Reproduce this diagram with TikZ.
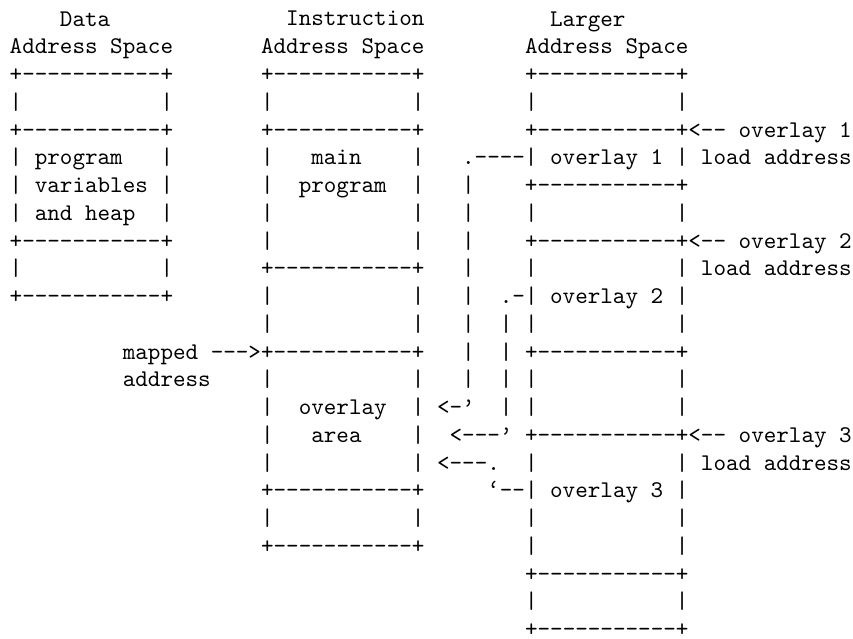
\documentclass[tikz,border=0pt]{standalone}
\usepackage{fontspec}
\setmonofont{lmmono10-regular.otf}

% n blank character cells of the current typewriter font
\newcommand\pad[1]{\hskip#1\fontcharwd\font`x\relax}

\begin{document}
\begin{tikzpicture}[x=12.57pt,y=-27.75pt,
    txtrow/.style={anchor=base west,inner sep=0pt,outer sep=0pt,
      font=\ttfamily\fontsize{23.94}{27.75}\selectfont}]

    \useasboundingbox (-0.772,-0.937) rectangle (67.088,22.09);

    % headings
    \node[txtrow] (r0) at (0,0) {\pad{4}Data\pad{14}Instruction\pad{10}Larger};
    \node[txtrow] (r1) at (0,1) {Address~Space\pad{7}Address~Space\pad{8}Address~Space};

    % the three address spaces, row by row
    \node[txtrow] (r2) at (0,2) {+-----------+\pad{7}+-----------+\pad{8}+-----------+};
    \node[txtrow] (r3) at (0,3) {|\pad{11}|\pad{7}|\pad{11}|\pad{8}|\pad{11}|};
    \node[txtrow] (r4) at (0,4) {+-----------+\pad{7}+-----------+\pad{8}+-----------+<--~overlay~1};
    \node[txtrow] (r5) at (0,5) {|~program\pad{3}|\pad{7}|\pad{3}main\pad{4}|\pad{3}.----|~overlay~1~|~load~address};
    \node[txtrow] (r6) at (0,6) {|~variables~|\pad{7}|\pad{2}program\pad{2}|\pad{3}|\pad{4}+-----------+};
    \node[txtrow] (r7) at (0,7) {|~and~heap\pad{2}|\pad{7}|\pad{11}|\pad{3}|\pad{4}|\pad{11}|};
    \node[txtrow] (r8) at (0,8) {+-----------+\pad{7}|\pad{11}|\pad{3}|\pad{4}+-----------+<--~overlay~2};
    \node[txtrow] (r9) at (0,9) {|\pad{11}|\pad{7}+-----------+\pad{3}|\pad{4}|\pad{11}|~load~address};
    \node[txtrow] (r10) at (0,10) {+-----------+\pad{7}|\pad{11}|\pad{3}|\pad{2}.-|~overlay~2~|};

    % data space ends here
    \node[txtrow] (r11) at (20,11) {|\pad{11}|\pad{3}|\pad{2}|~|\pad{11}|};
    \node[txtrow] (r12) at (9,12) {mapped~--->+-----------+\pad{3}|\pad{2}|~+-----------+};
    \node[txtrow] (r13) at (9,13) {address\pad{4}|\pad{11}|\pad{3}|\pad{2}|~|\pad{11}|};
    \node[txtrow] (r14) at (20,14) {|\pad{2}overlay\pad{2}|~<-’\pad{2}|~|\pad{11}|};
    \node[txtrow] (r15) at (20,15) {|\pad{3}area\pad{4}|\pad{2}<---’~+-----------+<--~overlay~3};
    \node[txtrow] (r16) at (20,16) {|\pad{11}|~<---.\pad{2}|\pad{11}|~load~address};
    \node[txtrow] (r17) at (20,17) {+-----------+\pad{5}‘--|~overlay~3~|};
    \node[txtrow] (r18) at (20,18) {|\pad{11}|\pad{8}|\pad{11}|};
    \node[txtrow] (r19) at (20,19) {+-----------+\pad{8}|\pad{11}|};

    % larger space only
    \node[txtrow] (r20) at (41,20) {+-----------+};
    \node[txtrow] (r21) at (41,21) {|\pad{11}|};
    \node[txtrow] (r22) at (41,22) {+-----------+};

\end{tikzpicture}
\end{document}
